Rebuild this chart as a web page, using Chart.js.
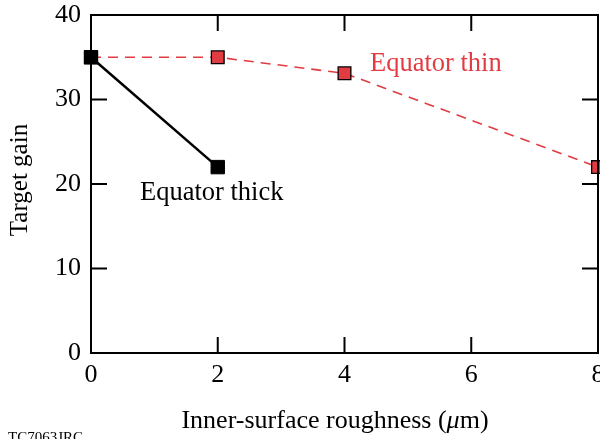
<!DOCTYPE html>
<html>
<head>
<meta charset="utf-8">
<script src="https://cdn.jsdelivr.net/npm/chart.js@4/dist/chart.umd.min.js"></script>
<style>
  html, body { margin: 0; padding: 0; background: #fff; }
  #wrap { width: 600px; height: 439px; }
</style>
</head>
<body>
<div id="wrap"><canvas id="gainCanvas" width="600" height="439"></canvas></div>
<script>
// roughness in um
const thickX = [0, 2];
const thickGain = [35, 22];
const thinX = [0, 2, 4, 8];
const thinGain = [35, 35, 33.1, 22];
const xTicks = [0, 2, 4, 6, 8];
const yTicks = [0, 10, 20, 30, 40];

const serif = "'Liberation Serif', 'DejaVu Serif', serif";
const red = '#e03c42';

function pts(xs, ys) {
  return xs.map((x, i) => ({x: x, y: ys[i]}));
}

// inward ticks on all four sides + frame + the free text
const extras = {
  id: 'extras',
  afterDraw(chart) {
    const ctx = chart.ctx;
    const a = chart.chartArea;
    const sx = chart.scales.x, sy = chart.scales.y;
    const tl = 16;
    ctx.save();
    ctx.strokeStyle = '#000';
    ctx.lineWidth = 2;
    ctx.strokeRect(a.left, a.top, a.right - a.left, a.bottom - a.top);
    ctx.beginPath();
    xTicks.forEach(v => {
      const px = sx.getPixelForValue(v);
      ctx.moveTo(px, a.bottom); ctx.lineTo(px, a.bottom - tl);
      ctx.moveTo(px, a.top); ctx.lineTo(px, a.top + tl);
    });
    yTicks.forEach(v => {
      const py = sy.getPixelForValue(v);
      ctx.moveTo(a.left, py); ctx.lineTo(a.left + tl, py);
      ctx.moveTo(a.right, py); ctx.lineTo(a.right - tl, py);
    });
    ctx.stroke();

    // series labels
    ctx.font = '26.5px ' + serif;
    ctx.textBaseline = 'alphabetic';
    ctx.fillStyle = red;
    ctx.fillText('Equator thin', 370, 71);
    ctx.fillStyle = '#000';
    ctx.fillText('Equator thick', 140, 200);

    // x title with italic mu
    const t1 = 'Inner-surface roughness (';
    const t2 = '\u03bc';
    const t3 = 'm)';
    ctx.font = '26px ' + serif;
    const w1 = ctx.measureText(t1).width;
    const w3 = ctx.measureText(t3).width;
    ctx.font = 'italic 26px ' + serif;
    const w2 = ctx.measureText(t2).width;
    let x0 = 335 - (w1 + w2 + w3) / 2;
    const yb = 428;
    ctx.font = '26px ' + serif;
    ctx.fillText(t1, x0, yb);
    ctx.font = 'italic 26px ' + serif;
    ctx.fillText(t2, x0 + w1, yb);
    ctx.font = '26px ' + serif;
    ctx.fillText(t3, x0 + w1 + w2, yb);

    // y title
    ctx.save();
    ctx.translate(27, 180);
    ctx.rotate(-Math.PI / 2);
    ctx.textAlign = 'center';
    ctx.font = '25px ' + serif;
    ctx.fillText('Target gain', 0, 0);
    ctx.restore();

    ctx.font = '15px ' + serif;
    ctx.fillText('TC7063JRC', 8, 442);
    ctx.restore();
  }
};

const gainChart = new Chart(document.getElementById('gainCanvas'), {
  type: 'scatter',
  data: {
    datasets: [{
      label: 'Equator thick',
      data: pts(thickX, thickGain),
      showLine: true,
      borderColor: '#000',
      borderWidth: 2.5,
      pointStyle: 'rect',
      pointRadius: 9.5,
      pointHoverRadius: 9.5,
      pointBackgroundColor: '#000',
      pointBorderColor: '#000',
      pointBorderWidth: 1,
      clip: false
    }, {
      label: 'Equator thin',
      data: pts(thinX, thinGain),
      showLine: true,
      borderColor: red,
      borderWidth: 1.6,
      borderDash: [10, 7],
      pointStyle: 'rect',
      pointRadius: 9,
      pointHoverRadius: 9,
      pointBackgroundColor: red,
      pointBorderColor: '#000',
      pointBorderWidth: 1.3,
      clip: false
    }]
  },
  options: {
    responsive: false,
    animation: false,
    devicePixelRatio: 1,
    layout: {autoPadding: false, padding: {top: 15, right: 2, left: 0, bottom: 0}},
    plugins: {legend: {display: false}, tooltip: {enabled: false}},
    scales: {
      x: {
        type: 'linear',
        min: 0, max: 8,
        afterBuildTicks: s => { s.ticks = xTicks.map(v => ({value: v})); },
        afterFit: s => { s.height = 86; s.paddingLeft = 0; s.paddingRight = 0; },
        grid: {display: false, drawTicks: false},
        border: {display: false},
        ticks: {color: '#000', padding: 7, font: {family: serif, size: 26}, maxRotation: 0}
      },
      y: {
        min: 0, max: 40,
        afterBuildTicks: s => { s.ticks = yTicks.map(v => ({value: v})); },
        afterFit: s => { s.width = 91; s.paddingTop = 0; s.paddingBottom = 0; },
        grid: {display: false, drawTicks: false},
        border: {display: false},
        ticks: {color: '#000', padding: 10, font: {family: serif, size: 26}}
      }
    }
  },
  plugins: [extras]
});
</script>
</body>
</html>
